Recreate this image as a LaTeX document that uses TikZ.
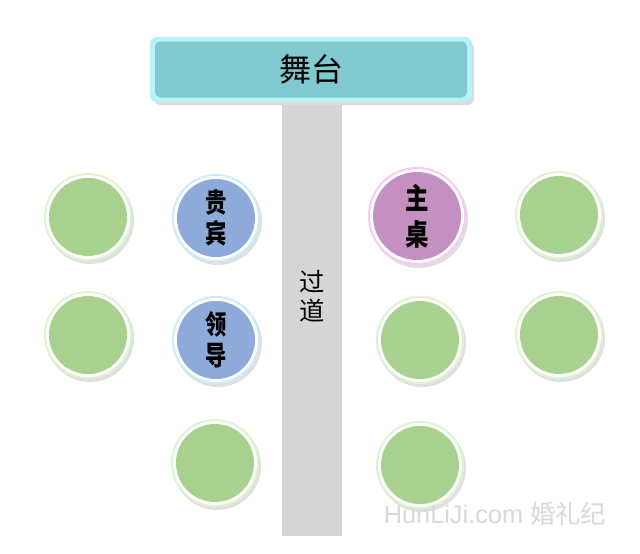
\documentclass[tikz,border=0pt]{standalone}
\usepackage{fontspec}
\newfontfamily\cjk{Noto Sans CJK SC}
\newcommand{\narrowpair}[2]{\scalebox{0.8}[1]{#1}\\\scalebox{0.8}[1]{#2}}
\begin{document}
\begin{tikzpicture}[x=0.75pt,y=-0.75pt,
  tbl/.style={circle,minimum size={#1*0.75pt},inner sep=0pt,text=black,font=\cjk\bfseries\fontsize{20pt}{23pt}\selectfont,align=center},
]
\definecolor{stagec}{HTML}{7FC9CF}
\definecolor{stagerim}{HTML}{B8F2F6}
\definecolor{aislec}{HTML}{D5D5D5}
\definecolor{greenc}{HTML}{A8D18F}
\definecolor{greenrim}{HTML}{DDF3CF}
\definecolor{bluec}{HTML}{8EAADB}
\definecolor{bluerim}{HTML}{C9ECF7}
\definecolor{pinkc}{HTML}{C490C2}
\definecolor{pinkrim}{HTML}{F6C9F0}
\useasboundingbox (0,0) rectangle (640,554);
\fill[white] (0,0) rectangle (640,554);
% aisle
\fill[aislec] (282,100) rectangle (342,536);
\node[font=\cjk\fontsize{19pt}{22pt}\selectfont,align=center] (aisle) at (312,296) {过\\道};
% stage
\fill[black!14,rounded corners=5pt] (154,42) rectangle (474,105);
\fill[stagerim,rounded corners=5pt] (150,37) rectangle (472,102);
\node[fill=stagec,rounded corners=4pt,minimum width=234pt,minimum height=42pt,inner sep=0pt,
  font=\cjk\fontsize{24pt}{26pt}\selectfont] (stage) at (311,69.5) {舞台};
% table rims
\newcommand{\tablec}[5]{% name, x, y, r, rim
  \fill[black!12] (#2+2,#3+3) circle (#4+5);
  \fill[#5] (#2,#3) circle (#4+5);
  \fill[white] (#2,#3) circle (#4+3);
}
\tablec{g1}{88}{217}{39}{greenrim}
\node[tbl=78,fill=greenc] (g1) at (88,217) {};
\tablec{g2}{88}{335}{39}{greenrim}
\node[tbl=78,fill=greenc] (g2) at (88,335) {};
\tablec{vip}{216}{218}{39}{bluerim}
\node[tbl=78,fill=bluec] (vip) at (216,218) {\narrowpair{贵}{宾}};
\tablec{lead}{216}{340}{39}{bluerim}
\node[tbl=78,fill=bluec] (lead) at (216,340) {\narrowpair{领}{导}};
\tablec{g3}{215}{463}{39}{greenrim}
\node[tbl=78,fill=greenc] (g3) at (215,463) {};
\tablec{main}{417}{216}{44}{pinkrim}
\node[tbl=88,fill=pinkc,font=\cjk\bfseries\fontsize{22pt}{27pt}\selectfont] (main) at (417,216) {\narrowpair{主}{桌}};
\tablec{g4}{420}{340}{39}{greenrim}
\node[tbl=78,fill=greenc] (g4) at (420,340) {};
\tablec{g5}{420}{465}{39}{greenrim}
\node[tbl=78,fill=greenc] (g5) at (420,465) {};
\tablec{g6}{559}{215}{39}{greenrim}
\node[tbl=78,fill=greenc] (g6) at (559,215) {};
\tablec{g7}{559}{335}{39}{greenrim}
\node[tbl=78,fill=greenc] (g7) at (559,335) {};
% watermark
\node[text=black!15,font=\fontspec{Liberation Sans}\fontsize{19pt}{22pt}\selectfont] (wm) at (495,514) {HunLiJi.com {\cjk 婚礼纪}};
\end{tikzpicture}
\end{document}
